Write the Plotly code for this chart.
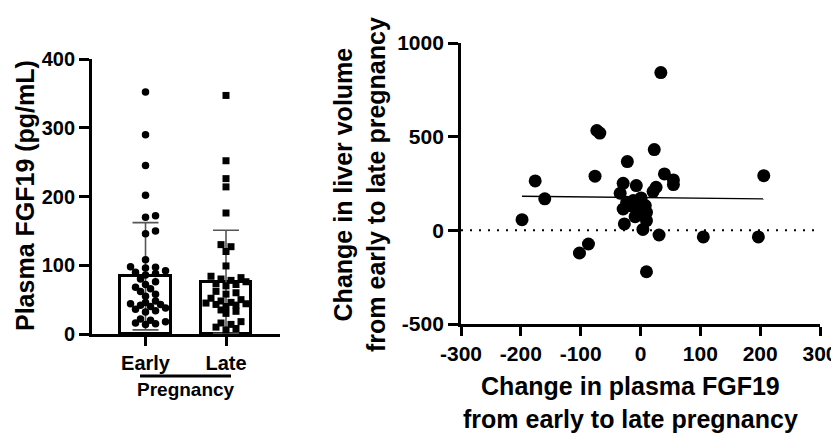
import numpy as np
import plotly.graph_objects as go

# ---------------- DATA ----------------
groups = ["Early", "Late"]
early_fgf19 = [352, 290, 245, 202, 172, 170, 150, 146, 108, 98, 97, 96, 92, 90, 88, 86,
               80, 76, 72, 68, 66, 62, 58, 55, 48, 46, 44, 43, 42, 40, 38, 36, 34, 32,
               22, 20, 18, 16, 15, 14]
late_fgf19 = [347, 252, 226, 214, 176, 130, 127, 120, 99, 84, 82, 80, 78, 76, 73, 72, 70,
              62, 60, 58, 52, 50, 48, 46, 45, 44, 43, 42, 40, 35, 33, 30, 18, 16, 14, 10, 8, 6]
group_means = [84, 76]
group_sds = [78, 75]

delta_fgf19 = [34, -73, -68, 23, -22, -76, -176, 40, 55, 55, 206, -160, -198, -29, -7, 26,
               21, -34, -12, 1, -23, 8, -29, -6, 10, -9, 10, -27, 4, 31, 105, 197, -87,
               -102, 10, -15, 0]
delta_liver = [842, 533, 519, 431, 367, 289, 264, 301, 269, 244, 292, 168, 57, 251, 239, 230,
               207, 198, 159, 173, 150, 132, 114, 114, 96, 73, 52, 34, 5, -25, -35, -35, -73,
               -121, -221, 130, 90]
fit_intercept = 175
fit_slope = -0.035

left_yticks = [0, 100, 200, 300, 400]
right_xticks = [-300, -200, -100, 0, 100, 200, 300]
right_yticks = [-500, 0, 500, 1000]

# ---------------- LAYOUT GEOMETRY ----------------
W, H = 839, 433
OFF = 8  # page body margin in which the figure sits
FONT = "Liberation Sans, Arial, sans-serif"


def px(p):
    return (p - OFF) / W


def py(p):
    return 1 - (p - OFF) / H


L_X0, L_X1 = 92, 280       # left plot axis pixel extents (page pixels)
L_Y0, L_Y1 = 334, 59       # y=0 and y=400 pixel
R_X0, R_X1 = 461, 820
R_Y0, R_Y1 = 324, 43

l_xrange = [-0.665, 1.671]
l_yrange = [0, 400]
px_per_x = (L_X1 - L_X0) / (l_xrange[1] - l_xrange[0])
px_per_y = (L_Y0 - L_Y1) / (l_yrange[1] - l_yrange[0])


def beeswarm(vals, center, diam_px=6.0, step=5.0, max_off=24):
    placed = []
    xs = [0.0] * len(vals)
    order = np.argsort(vals)
    for i in order:
        yp = vals[i] * px_per_y
        best, best_d = 0.0, -1
        k = 0
        while True:
            off = ((k + 1) // 2) * (1 if k % 2 else -1) * step
            if abs(off) > max_off:
                break
            d = min([((off - ox) ** 2 + (yp - oy) ** 2) ** 0.5 for ox, oy in placed] or [99])
            if d >= diam_px:
                best = off
                best_d = d
                break
            if d > best_d:
                best, best_d = off, d
            k += 1
        placed.append((best, yp))
        xs[i] = center + best / px_per_x
    return xs


def bold(v):
    return "<b>%s</b>" % v


fig = go.Figure()

# bars
fig.add_trace(go.Bar(
    x=[0, 1], y=group_means, width=0.63,
    marker=dict(color="white", line=dict(color="black", width=3)),
    error_y=dict(type="data", array=group_sds, symmetric=True, color="#555555",
                 thickness=1.6, width=13),
    xaxis="x", yaxis="y", showlegend=False, hoverinfo="skip"))

fig.add_trace(go.Scatter(
    x=beeswarm(early_fgf19, 0), y=early_fgf19, mode="markers",
    marker=dict(symbol="circle", size=7.5, color="black"),
    xaxis="x", yaxis="y", showlegend=False))
fig.add_trace(go.Scatter(
    x=beeswarm(late_fgf19, 1), y=late_fgf19, mode="markers",
    marker=dict(symbol="square", size=7, color="black"),
    xaxis="x", yaxis="y", showlegend=False))

# right scatter
fig.add_trace(go.Scatter(
    x=[-300, 300], y=[0, 0], mode="lines",
    line=dict(color="black", width=2, dash="2px,7px"),
    xaxis="x2", yaxis="y2", showlegend=False, hoverinfo="skip"))
fx = [min(delta_fgf19), max(delta_fgf19)]
fig.add_trace(go.Scatter(
    x=fx, y=[fit_intercept + fit_slope * v for v in fx], mode="lines",
    line=dict(color="black", width=1.3),
    xaxis="x2", yaxis="y2", showlegend=False, hoverinfo="skip"))
fig.add_trace(go.Scatter(
    x=delta_fgf19, y=delta_liver, mode="markers",
    marker=dict(symbol="circle", size=13, color="black"),
    xaxis="x2", yaxis="y2", showlegend=False))


def axis_common(size, tlen):
    return dict(showgrid=False, zeroline=False, showline=True, linecolor="black",
                linewidth=2.8, ticks="outside", tickcolor="black", tickwidth=2.5,
                ticklen=tlen, tickfont=dict(family=FONT, size=size, color="black"),
                automargin=False)


fig.update_layout(
    width=W, height=H, margin=dict(l=0, r=0, t=0, b=0, autoexpand=False),
    paper_bgcolor="white", plot_bgcolor="white",
    font=dict(family=FONT, color="black"),
    bargap=0,
    xaxis=dict(domain=[px(L_X0), px(L_X1)], range=l_xrange, anchor="y",
               tickvals=[0, 1], ticktext=[bold(g) for g in groups], **axis_common(20, 9)),
    yaxis=dict(domain=[py(L_Y0), py(L_Y1)], range=l_yrange, anchor="x",
               tickvals=left_yticks, ticktext=[bold(v) for v in left_yticks],
               **axis_common(20, 10)),
    xaxis2=dict(domain=[px(R_X0), px(R_X1)], range=[-300, 300], anchor="y2",
                tickvals=right_xticks, ticktext=[bold(v) for v in right_xticks],
                **axis_common(21, 9)),
    yaxis2=dict(domain=[py(R_Y0), py(R_Y1)], range=[-500, 1000], anchor="x2",
                tickvals=right_yticks, ticktext=[bold(v) for v in right_yticks],
                **axis_common(21, 10)),
)

title_font = dict(family=FONT, size=25, color="black")
annots = [
    dict(text="<b>Plasma FGF19 (pg/mL)</b>", x=px(25), y=py(196), textangle=-90,
         font=title_font),
    dict(text="<b>Change in liver volume<br>from early to late pregnancy</b>", x=px(359),
         y=py(185), textangle=-90, font=title_font),
    dict(text="<b>Change in plasma FGF19<br>from early to late pregnancy</b>", x=px(630),
         y=py(402), font=title_font),
    dict(text="<b>Pregnancy</b>", x=px(186), y=py(389),
         font=dict(family=FONT, size=19, color="black")),
]
for a in annots:
    fig.add_annotation(xref="paper", yref="paper", showarrow=False, xanchor="center",
                       yanchor="middle", **a)

fig.add_shape(type="line", xref="paper", yref="paper", x0=px(140), x1=px(231),
              y0=py(376), y1=py(376), line=dict(color="black", width=3))

fig.write_html("out.html")
